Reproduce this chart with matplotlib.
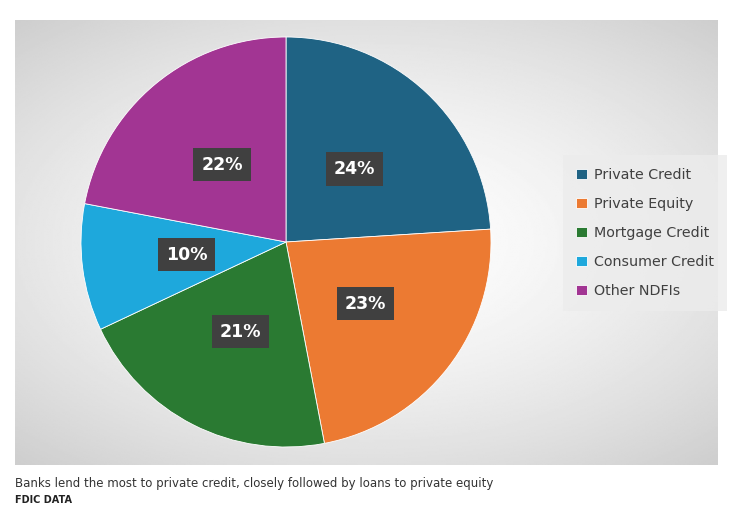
import matplotlib
matplotlib.use("Agg")
import matplotlib.pyplot as plt
import numpy as np

categories = ["Private Credit", "Private Equity", "Mortgage Credit", "Consumer Credit", "Other NDFIs"]
values = [24, 23, 21, 10, 22]
colors = ["#1f6384", "#ec7a32", "#2a7a32", "#1ea8dc", "#a23593"]

W, H = 735, 511
fig = plt.figure(figsize=(W/100, H/100), dpi=100)
fig.patch.set_facecolor("white")

bg = fig.add_axes([15/W, 1-465/H, (718-15)/W, (465-20)/H])
yy, xx = np.mgrid[-1:1:300j, -1:1:400j]
r = np.sqrt((xx*0.85)**2 + (yy*0.95)**2)
img = 1 - 0.2*np.clip(r/1.3, 0, 1)**1.5
bg.imshow(img, cmap="gray", vmin=0, vmax=1, aspect="auto", extent=[0,1,0,1])
bg.axis("off")

cx, cy, rad = 286, 242, 205
ax = fig.add_axes([(cx-rad)/W, 1-(cy+rad)/H, 2*rad/W, 2*rad/H])
wedges, _ = ax.pie(values, colors=colors, startangle=90, counterclock=False,
                   wedgeprops=dict(edgecolor="white", linewidth=0.6))
ax.set_xlim(-1, 1); ax.set_ylim(-1, 1)
ax.set_aspect("equal"); ax.axis("off")

for w, v in zip(wedges, values):
    ang = np.deg2rad((w.theta1 + w.theta2)/2)
    x, y = 0.49*np.cos(ang), 0.49*np.sin(ang)
    ax.text(x, y, f"{v}%", ha="center", va="center", color="white", fontsize=12.5,
            fontweight="bold",
            bbox=dict(boxstyle="square,pad=0.45", fc="#404040", ec="none"))

leg = fig.legend(wedges, categories, loc="upper left", bbox_to_anchor=(563/W, 1-155/H),
                 frameon=True, fontsize=10.3, handlelength=0.75, handleheight=0.75,
                 handletextpad=0.5, labelspacing=1.05, borderpad=0.9, borderaxespad=0,
                 fancybox=False)
leg.get_frame().set_facecolor("#ececec"); leg.get_frame().set_edgecolor("none")
for t in leg.get_texts():
    t.set_color("#404040")

fig.text(15/W, 1-483/H, "Banks lend the most to private credit, closely followed by loans to private equity",
         fontsize=8.5, va="center", color="#333333")
fig.text(15/W, 1-500/H, "FDIC DATA", fontsize=7, fontweight="bold", va="center", color="#222222")

fig.savefig("out.png", dpi=100)
